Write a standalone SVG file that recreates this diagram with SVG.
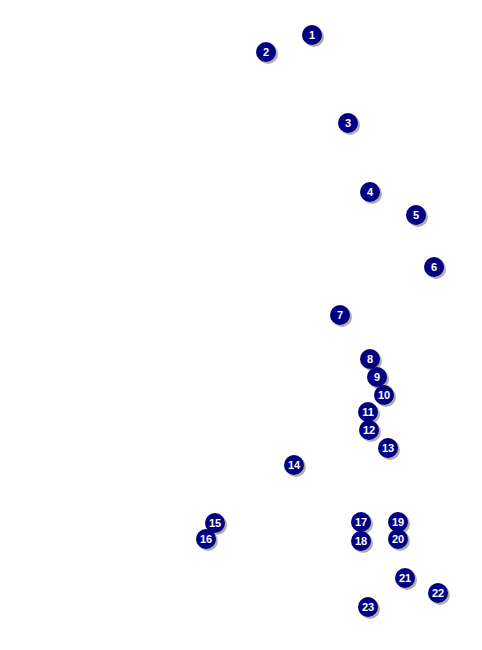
<svg xmlns="http://www.w3.org/2000/svg" width="482" height="650" viewBox="0 0 482 650">
<defs>
<style>
.sh{fill:#9a9a9a;opacity:0.8}
.c{fill:#000080}
.t{fill:#fff;font-family:"Liberation Sans",Arial,sans-serif;font-weight:bold;font-size:11px;text-anchor:middle}
</style>
<g id="pin">
<circle class="sh" cx="2" cy="2" r="10"/>
<circle class="c" cx="0" cy="0" r="10"/>
</g>
</defs>
<rect width="482" height="650" fill="#fff"/>
<g id="connectors"></g>
<g id="n1" transform="translate(312,35)"><use href="#pin"/><text class="t" y="4">1</text></g>
<g id="n2" transform="translate(266,52)"><use href="#pin"/><text class="t" y="4">2</text></g>
<g id="n3" transform="translate(348,123)"><use href="#pin"/><text class="t" y="4">3</text></g>
<g id="n4" transform="translate(370,192)"><use href="#pin"/><text class="t" y="4">4</text></g>
<g id="n5" transform="translate(416,215)"><use href="#pin"/><text class="t" y="4">5</text></g>
<g id="n6" transform="translate(434,267)"><use href="#pin"/><text class="t" y="4">6</text></g>
<g id="n7" transform="translate(340,315)"><use href="#pin"/><text class="t" y="4">7</text></g>
<g id="n8" transform="translate(370,359)"><use href="#pin"/><text class="t" y="4">8</text></g>
<g id="n9" transform="translate(377,377)"><use href="#pin"/><text class="t" y="4">9</text></g>
<g id="n10" transform="translate(384,395)"><use href="#pin"/><text class="t" y="4">10</text></g>
<g id="n11" transform="translate(368,412)"><use href="#pin"/><text class="t" y="4">11</text></g>
<g id="n12" transform="translate(369,430)"><use href="#pin"/><text class="t" y="4">12</text></g>
<g id="n13" transform="translate(388,448)"><use href="#pin"/><text class="t" y="4">13</text></g>
<g id="n14" transform="translate(294,465)"><use href="#pin"/><text class="t" y="4">14</text></g>
<g id="n15" transform="translate(215,523)"><use href="#pin"/><text class="t" y="4">15</text></g>
<g id="n16" transform="translate(206,539)"><use href="#pin"/><text class="t" y="4">16</text></g>
<g id="n17" transform="translate(361,522)"><use href="#pin"/><text class="t" y="4">17</text></g>
<g id="n18" transform="translate(361,541)"><use href="#pin"/><text class="t" y="4">18</text></g>
<g id="n19" transform="translate(398,522)"><use href="#pin"/><text class="t" y="4">19</text></g>
<g id="n20" transform="translate(398,539)"><use href="#pin"/><text class="t" y="4">20</text></g>
<g id="n21" transform="translate(405,578)"><use href="#pin"/><text class="t" y="4">21</text></g>
<g id="n22" transform="translate(438,593)"><use href="#pin"/><text class="t" y="4">22</text></g>
<g id="n23" transform="translate(368,607)"><use href="#pin"/><text class="t" y="4">23</text></g>
</svg>
